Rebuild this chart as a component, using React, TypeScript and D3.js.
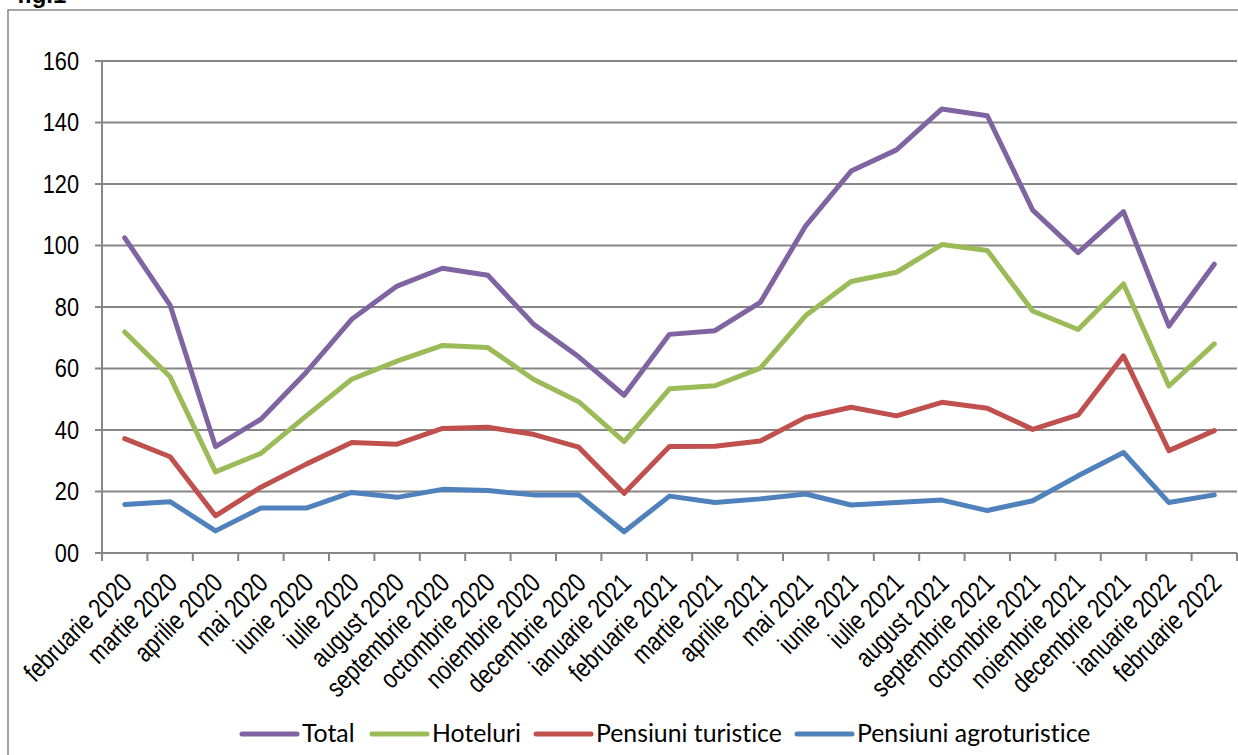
// 折线图：各类住宿单位的月度指数（fig.1）
import React, { useRef, useEffect } from 'react';
import * as d3 from 'd3';

// 月份类别
const months = [
  'februarie 2020', 'martie 2020', 'aprilie 2020', 'mai 2020', 'iunie 2020',
  'iulie 2020', 'august 2020', 'septembrie 2020', 'octombrie 2020', 'noiembrie 2020',
  'decembrie 2020', 'ianuarie 2021', 'februarie 2021', 'martie 2021', 'aprilie 2021',
  'mai 2021', 'iunie 2021', 'iulie 2021', 'august 2021', 'septembrie 2021',
  'octombrie 2021', 'noiembrie 2021', 'decembrie 2021', 'ianuarie 2022', 'februarie 2022',
];

// 各系列数值
const total = [102.5, 80.6, 34.6, 43.5, 58.8, 76.0, 86.8, 92.6, 90.3, 74.5, 63.8, 51.3,
  71.1, 72.3, 81.5, 106.4, 124.2, 131.1, 144.4, 142.2, 111.5, 97.7, 111.0, 73.8, 93.9];
const hoteluri = [71.9, 57.3, 26.4, 32.4, 44.6, 56.5, 62.4, 67.5, 66.8, 56.5, 49.2, 36.2,
  53.4, 54.4, 60.1, 77.2, 88.3, 91.3, 100.3, 98.4, 78.7, 72.7, 87.5, 54.3, 68.0];
const pensiuniTuristice = [37.2, 31.3, 12.1, 21.4, 28.9, 35.9, 35.4, 40.5, 40.9, 38.6, 34.4, 19.4,
  34.6, 34.7, 36.4, 44.1, 47.4, 44.6, 49.0, 47.1, 40.2, 44.9, 64.1, 33.3, 39.8];
const pensiuniAgro = [15.8, 16.7, 7.2, 14.6, 14.6, 19.7, 18.1, 20.7, 20.3, 18.9, 18.9, 6.9,
  18.5, 16.4, 17.6, 19.2, 15.6, 16.4, 17.2, 13.8, 17.0, 25.1, 32.7, 16.4, 18.9];

// y轴刻度及其标签（0 显示为 "00"）
const yTicks = [0, 20, 40, 60, 80, 100, 120, 140, 160];
const yTickLabels = ['00', '20', '40', '60', '80', '100', '120', '140', '160'];

const seriesNames = ['Total', 'Hoteluri', 'Pensiuni turistice', 'Pensiuni agroturistice'];
const seriesValues = [total, hoteluri, pensiuniTuristice, pensiuniAgro];
const seriesColors = ['#8064A2', '#9BBB59', '#C0504D', '#4F81BD'];

const LineChart = () => {
  const ref = useRef<SVGSVGElement>(null);

  useEffect(() => {
    const svg = d3.select(ref.current);
    svg.selectAll('*').remove();

    const left = 102, right = 1237, top = 61, bottom = 553;
    const grid = '#868686';
    const narrow = "'Liberation Sans', Arial, sans-serif";

    // 外框（只露出左边和上边）
    svg.append('rect')
      .attr('x', 8).attr('y', 10).attr('width', 1300).attr('height', 800)
      .attr('fill', 'white').attr('stroke', grid).attr('stroke-width', 1.5);

    // 标题（和原图一样只露出下半部分）
    svg.append('text')
      .attr('x', 17).attr('y', 3)
      .style('font-family', narrow).style('font-weight', 'bold').style('font-size', '24px')
      .text('fig.1');

    // 比例尺
    const xBand = d3.scaleBand().domain(months).range([left, right]);
    const x = (i: number) => xBand(months[i])! + xBand.bandwidth() / 2;
    const y = d3.scaleLinear().domain([0, 160]).range([bottom, top]);

    // 水平网格线 + y 刻度
    const g = svg.append('g');
    yTicks.forEach((t, i) => {
      g.append('line')
        .attr('x1', left - 7).attr('x2', right)
        .attr('y1', y(t)).attr('y2', y(t))
        .attr('stroke', grid).attr('stroke-width', 2);
      g.append('text')
        .attr('transform', `translate(79, ${y(t)}) scale(0.87, 1)`)
        .attr('text-anchor', 'end').attr('dy', '0.35em')
        .style('font-family', narrow).style('font-size', '25px').style('fill', '#000')
        .text(yTickLabels[i]);
    });

    // y 轴
    g.append('line')
      .attr('x1', left).attr('x2', left).attr('y1', top).attr('y2', bottom + 7)
      .attr('stroke', grid).attr('stroke-width', 2);

    // x 轴刻度（在类别边界处）
    d3.range(months.length + 1).forEach(i => {
      const xx = left + i * xBand.step();
      g.append('line')
        .attr('x1', xx).attr('x2', xx).attr('y1', bottom).attr('y2', bottom + 8)
        .attr('stroke', grid).attr('stroke-width', 2);
    });

    // x 轴标签，旋转 -45 度（窄字体效果用 scale 模拟）
    months.forEach((m, i) => {
      g.append('text')
        .attr('transform', `translate(${x(i) + 2}, 578) rotate(-45) scale(0.8, 1)`)
        .attr('text-anchor', 'end').attr('dy', '0.35em')
        .style('font-family', narrow).style('font-size', '27px').style('fill', '#000')
        .text(m);
    });

    // 折线
    const line = d3.line<number>()
      .x((d, i) => x(i))
      .y(d => y(d));

    seriesValues.forEach((vals, k) => {
      svg.append('path')
        .datum(vals)
        .attr('d', line)
        .attr('fill', 'none')
        .attr('stroke', seriesColors[k])
        .attr('stroke-width', 5)
        .attr('stroke-linejoin', 'round')
        .attr('stroke-linecap', 'round');
    });

    // 图例
    const legendX = [242, 372, 536, 797];
    const legend = svg.append('g');
    seriesNames.forEach((name, k) => {
      legend.append('line')
        .attr('x1', legendX[k]).attr('x2', legendX[k] + 55)
        .attr('y1', 734).attr('y2', 734)
        .attr('stroke', seriesColors[k]).attr('stroke-width', 5)
        .attr('stroke-linecap', 'round');
      legend.append('text')
        .attr('x', legendX[k] + 60).attr('y', 742)
        .style('font-family', 'Lato, sans-serif').style('font-size', '24.8px')
        .style('font-variant-ligatures', 'none').style('fill', '#000')
        .text(name);
    });
  }, []);

  return (
    <svg ref={ref} width={1238} height={755}
      style={{ position: 'absolute', left: 0, top: 0, background: 'white' }} />
  );
};

export default function App() {
  return <LineChart />;
}
